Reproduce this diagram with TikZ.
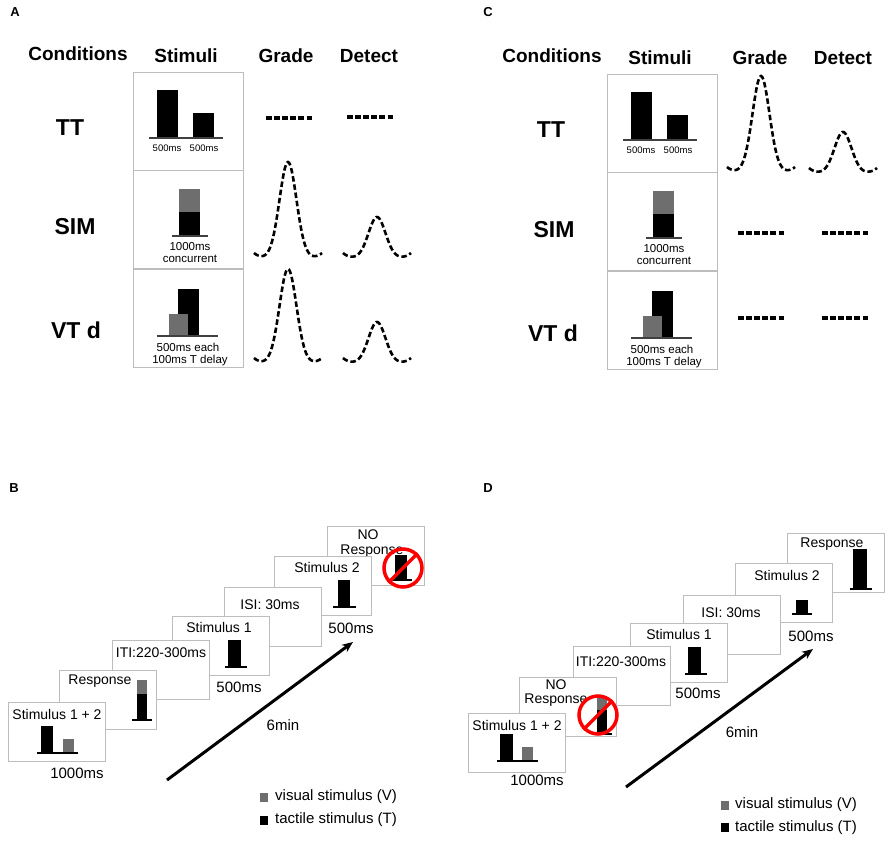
\documentclass[tikz,border=0pt]{standalone}
\usepackage{fontspec}
\setmainfont{Liberation Sans}
\usetikzlibrary{arrows.meta}
\definecolor{vis}{HTML}{6E6E6E}
\definecolor{frm}{HTML}{BDBDBD}
\tikzset{
 hdr/.style={font=\fontsize{19}{21}\selectfont\bfseries, inner sep=0},
 rowlab/.style={font=\fontsize{23}{25}\selectfont\bfseries, inner sep=0},
 panlab/.style={font=\fontsize{13}{15}\selectfont\bfseries, inner sep=0},
 txtxs/.style={font=\fontsize{9.5}{10}\selectfont, inner sep=0},
 txts/.style={font=\fontsize{11.5}{12}\selectfont, inner sep=0},
 boxtxt/.style={font=\fontsize{14}{15}\selectfont, inner sep=0},
 lbl/.style={font=\fontsize{15}{17}\selectfont, inner sep=0},
 stimframe/.style={draw=frm, line width=0.9pt, minimum width=110pt, minimum height=98pt, inner sep=0},
 trialbox/.style={draw=frm, fill=white, line width=0.9pt, minimum width=97pt, minimum height=59pt, inner sep=0},
 tbar/.style={fill=black},
 vbar/.style={fill=vis},
 baseln/.style={draw=black!75, line width=1.3pt},
 foot/.style={draw=black, line width=2pt},
 curvedash/.style={line width=2.6pt, dash pattern=on 5.5pt off 2.8pt},
 flatdash/.style={line width=3.2pt, dash pattern=on 5.5pt off 2.6pt},
 timearrow/.style={line width=3pt, -{Stealth[length=11pt,width=9pt]}},
 nosign/.style={circle, draw=red, line width=3.5pt, minimum size=38pt, inner sep=0},
 legsq/.style={minimum width=8pt, minimum height=9pt, inner sep=0},
}
\newcommand{\peakcurve}[3]{%
 \draw[curvedash] plot[domain=-34:34, samples=69, smooth] ({#1+\x},{#2-#3*exp(-(\x*\x)/144.5)-5*(\x*\x/1156)^3});
}
\newcommand{\stimcolumn}[1]{%
 \node[stimframe] (#1f1) at (188,121) {};
 \node[stimframe] (#1f2) at (188,219.5) {};
 \node[stimframe] (#1f3) at (188,318) {};
 \fill[tbar] (157,90) rectangle (178,138);
 \fill[tbar] (193,113) rectangle (214,138);
 \draw[baseln] (149,138) -- (223,138);
 \node[txtxs] (#1msa) at (167,148) {500ms};
 \node[txtxs] (#1msb) at (204,148) {500ms};
 \fill[vbar] (179,189) rectangle (200,212);
 \fill[tbar] (179,212) rectangle (200,236);
 \draw[baseln] (172,236) -- (208,236);
 \node[txts] (#1sima) at (190,247) {1000ms};
 \node[txts] (#1simb) at (190,259) {concurrent};
 \fill[tbar] (178,289) rectangle (199,336);
 \fill[vbar] (169,314) rectangle (188,336);
 \draw[baseln] (157,336) -- (218,336);
 \node[txts] (#1vta) at (188,347) {500ms each};
 \node[txts] (#1vtb) at (190,361) {100ms T delay};
 \node[hdr] (#1hc) at (78,54) {Conditions};
 \node[hdr] (#1hs) at (186,56) {Stimuli};
 \node[hdr] (#1hg) at (286,56) {Grade};
 \node[hdr] (#1hd) at (369,56) {Detect};
}
\begin{document}
\begin{tikzpicture}[x=1pt,y=-1pt]
\useasboundingbox (0,0) rectangle (892,843);
% ---------- Panel A ----------
\node[panlab] (labA) at (15,12) {A};
\stimcolumn{a}
\node[rowlab] (aTT) at (70,128) {TT};
\node[rowlab] (aSIM) at (75,227) {SIM};
\node[rowlab] (aVT) at (76,330) {VT d};
\draw[flatdash] (266,118) -- (312,118);
\draw[flatdash] (347,117) -- (393,117);
\peakcurve{288}{258}{96}
\peakcurve{377}{258}{41}
\peakcurve{288}{363}{94}
\peakcurve{377}{363}{41}
% ---------- Panel C ----------
\node[panlab] (labC) at (488,12) {C};
\begin{scope}[shift={(474,2)}]
\stimcolumn{c}
\end{scope}
\node[rowlab] (cTT) at (551,130) {TT};
\node[rowlab] (cSIM) at (554,230) {SIM};
\node[rowlab] (cVT) at (553,333) {VT d};
\peakcurve{761}{172}{96}
\peakcurve{843}{173}{41}
\draw[flatdash] (738,233) -- (784,233);
\draw[flatdash] (822,233) -- (868,233);
\draw[flatdash] (738,318) -- (784,318);
\draw[flatdash] (822,318) -- (868,318);
% ---------- Panel B ----------
\node[panlab] (labB) at (14,488) {B};
\node[trialbox] (b7) at (375.5,556) {};
\node[boxtxt] (b7t) at (368,534.5) {NO};
\node[boxtxt] (b7u) at (372,551) {Response};
\fill[tbar] (395,555) rectangle (407,580);
\draw[foot] (388,580) -- (412,580);
\node[nosign] (bno) at (403,568) {};
\draw[red, line width=3.5pt] (bno.45) -- (bno.225);
\node[trialbox] (b6) at (323,586) {};
\node[boxtxt] (b6t) at (327,567) {Stimulus 2};
\fill[tbar] (338,580) rectangle (350,607);
\draw[foot] (333,607) -- (356,607);
\node[trialbox] (b5) at (272.5,617) {};
\node[boxtxt] (b5t) at (270,605) {ISI: 30ms};
\node[trialbox] (b4) at (220.5,645.5) {};
\node[boxtxt] (b4t) at (219,627) {Stimulus 1};
\fill[tbar] (228,640) rectangle (241,667);
\draw[foot] (225,667) -- (247,667);
\node[trialbox] (b3) at (160.5,670) {};
\node[boxtxt] (b3t) at (161,653) {ITI:220-300ms};
\node[trialbox] (b2) at (108,699.5) {};
\node[boxtxt] (b2t) at (100,681) {Response};
\fill[vbar] (137,680) rectangle (147,694);
\fill[tbar] (137,694) rectangle (147,720);
\draw[foot] (132,720) -- (152,720);
\node[trialbox] (b1) at (57,732) {};
\node[boxtxt] (b1t) at (57,714) {Stimulus 1 + 2};
\fill[tbar] (41,726) rectangle (53,753);
\fill[vbar] (63,739) rectangle (74,753);
\draw[foot] (37,753) -- (78,753);
\node[lbl] (b1ms) at (77,773) {1000ms};
\node[lbl] (b4ms) at (239,687) {500ms};
\node[lbl] (b6ms) at (351,628) {500ms};
\coordinate (barS) at (167,780);
\coordinate (barE) at (353,642);
\draw[timearrow] (barS) -- (barE);
\node[lbl] (bmin) at (283,725) {6min};
\node[legsq, fill=vis] (blv) at (264,797.5) {};
\node[lbl, anchor=west] (blvt) at (275,797) {visual stimulus (V)};
\node[legsq, fill=black] (blt) at (264,820.5) {};
\node[lbl, anchor=west] (bltt) at (275,820) {tactile stimulus (T)};
% ---------- Panel D ----------
\node[panlab] (labD) at (488,488) {D};
\node[trialbox] (d7) at (836,562.5) {};
\node[boxtxt] (d7t) at (832,544) {Response};
\fill[tbar] (853,549) rectangle (867,589);
\draw[foot] (850,589) -- (872,589);
\node[trialbox] (d6) at (784,593) {};
\node[boxtxt] (d6t) at (787,575) {Stimulus 2};
\fill[tbar] (796,600) rectangle (808,614);
\draw[foot] (792,614) -- (812,614);
\node[trialbox] (d5) at (731.5,624.5) {};
\node[boxtxt] (d5t) at (731,613) {ISI: 30ms};
\node[trialbox] (d4) at (679,653) {};
\node[boxtxt] (d4t) at (679,634) {Stimulus 1};
\fill[tbar] (688,647) rectangle (701,674);
\draw[foot] (685,674) -- (707,674);
\node[trialbox] (d3) at (621.5,676) {};
\node[boxtxt] (d3t) at (621,662) {ITI:220-300ms};
\node[trialbox] (d2) at (568,707) {};
\node[boxtxt] (d2t) at (556,684.5) {NO};
\node[boxtxt] (d2u) at (556,700) {Response};
\fill[vbar] (597,698) rectangle (607,710);
\fill[tbar] (597,710) rectangle (607,734);
\draw[foot] (592,734) -- (612,734);
\node[nosign] (dno) at (598,715) {};
\draw[red, line width=3.5pt] (dno.45) -- (dno.225);
\node[trialbox] (d1) at (517,743) {};
\node[boxtxt] (d1t) at (517,725) {Stimulus 1 + 2};
\fill[tbar] (500,734) rectangle (513,761);
\fill[vbar] (522,747) rectangle (533,761);
\draw[foot] (497,761) -- (538,761);
\node[lbl] (d1ms) at (537,780) {1000ms};
\node[lbl] (d4ms) at (698,693) {500ms};
\node[lbl] (d6ms) at (811,636) {500ms};
\coordinate (darS) at (626,787);
\coordinate (darE) at (813,649);
\draw[timearrow] (darS) -- (darE);
\node[lbl] (dmin) at (742,732) {6min};
\node[legsq, fill=vis] (dlv) at (725,805) {};
\node[lbl, anchor=west] (dlvt) at (735,805) {visual stimulus (V)};
\node[legsq, fill=black] (dlt) at (725,827.5) {};
\node[lbl, anchor=west] (dltt) at (735,828) {tactile stimulus (T)};
\end{tikzpicture}
\end{document}
